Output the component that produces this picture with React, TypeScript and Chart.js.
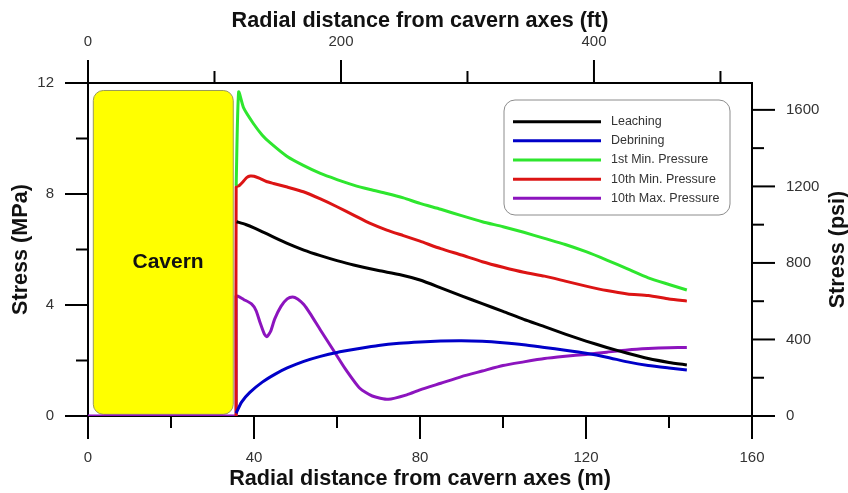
import React, { useEffect, useRef } from 'react';
import { Chart, registerables } from 'chart.js';

Chart.register(...registerables);

// ---------- data ----------
const M_TO_FT = 1 / 0.3048;
const MPA_TO_PSI = 145.0377;

const xMaxM = 160;
const yMaxMPa = 12;

const bottomLabelTicks = [0, 40, 80, 120, 160];
const topLabelTicks = [0, 200, 400];
const leftLabelTicks = [0, 4, 8, 12];
const rightLabelTicks = [0, 400, 800, 1200, 1600];

const seriesLabels = ['Leaching', 'Debrining', '1st Min. Pressure', '10th Min. Pressure', '10th Max. Pressure'];
const seriesColors = ['#000000', '#0000c8', '#2ee62e', '#dc1414', '#8c14be'];

const leachingX = [35.8, 38, 40, 44, 48, 52, 56, 60, 64, 70, 75, 80, 85, 90, 95, 100, 105, 110, 115, 120, 125, 130, 135, 140, 144.3];
const leachingY = [7.0, 6.9, 6.78, 6.5, 6.22, 5.98, 5.78, 5.6, 5.44, 5.24, 5.1, 4.9, 4.62, 4.33, 4.05, 3.77, 3.48, 3.22, 2.95, 2.7, 2.47, 2.26, 2.07, 1.93, 1.84];

const debriningX = [35.7, 37, 39, 42, 45, 48, 52, 56, 60, 65, 70, 75, 80, 85, 90, 95, 100, 105, 110, 115, 120, 125, 130, 135, 140, 144.3];
const debriningY = [0.1, 0.5, 0.85, 1.22, 1.5, 1.73, 1.97, 2.15, 2.29, 2.42, 2.54, 2.62, 2.67, 2.7, 2.71, 2.69, 2.64, 2.57, 2.47, 2.37, 2.26, 2.12, 1.95, 1.82, 1.73, 1.66];

const firstMinX = [35.7, 36.3, 37.5, 39.8, 42, 44, 48, 52, 56, 60, 64, 68, 72, 76, 80, 85, 90, 95, 100, 105, 110, 115, 120, 125, 130, 135, 140, 144.3];
const firstMinY = [8.3, 11.68, 11.1, 10.55, 10.12, 9.83, 9.35, 9.02, 8.74, 8.52, 8.32, 8.16, 8.02, 7.86, 7.66, 7.45, 7.22, 7.0, 6.82, 6.62, 6.4, 6.18, 5.92, 5.62, 5.3, 4.98, 4.74, 4.54];

const tenthMinX = [35.7, 35.7, 36.4, 37.4, 38.3, 39.1, 40, 41.4, 43, 44.7, 48, 51.9, 56, 60, 64, 68, 72, 76, 80, 85, 90, 95, 100, 105, 110, 115, 120, 125, 130, 135, 140, 144.3];
const tenthMinY = [0, 8.26, 8.3, 8.45, 8.6, 8.65, 8.64, 8.56, 8.45, 8.38, 8.25, 8.08, 7.82, 7.54, 7.24, 6.94, 6.7, 6.5, 6.3, 6.03, 5.8, 5.56, 5.36, 5.18, 5.04, 4.86, 4.68, 4.52, 4.4, 4.34, 4.22, 4.14];

const tenthMaxX = [0, 35.4, 35.7, 35.7, 36.1, 37.5, 39.4, 40.5, 41.5, 42.5, 43.1, 44, 45, 46.5, 48, 49.3, 50.5, 52, 53.5, 56, 59.1, 62, 65.5, 68.5, 72.4, 76.8, 80, 85, 90, 95, 100, 105, 110, 115, 120, 125, 130, 135, 140, 144.3];
const tenthMaxY = [0, 0, 0, 4.32, 4.32, 4.2, 4.04, 3.8, 3.35, 2.95, 2.86, 3.05, 3.5, 3.95, 4.22, 4.29, 4.22, 4.02, 3.7, 3.1, 2.38, 1.7, 1.0, 0.72, 0.6, 0.76, 0.94, 1.18, 1.42, 1.62, 1.82, 1.95, 2.07, 2.15, 2.22, 2.3, 2.38, 2.43, 2.46, 2.47];

const seriesX = [leachingX, debriningX, firstMinX, tenthMinX, tenthMaxX];
const seriesY = [leachingY, debriningY, firstMinY, tenthMinY, tenthMaxY];

// cavern extent (m, MPa)
const cavernX = [1.28, 35.0];
const cavernY = [0.06, 11.73];
const cavernText = 'Cavern';
const cavernTextAt = [19.3, 5.56];

const titleBottom = 'Radial distance from cavern axes (m)';
const titleTop = 'Radial distance from cavern axes (ft)';
const titleLeft = 'Stress (MPa)';
const titleRight = 'Stress (psi)';

// ---------- styles ----------
const FONT = '"Liberation Sans", Arial, Helvetica, sans-serif';
const TICK_FONT = { family: FONT, size: 15 };
const TICK_COLOR = '#333333';
const TITLE_FONT = `bold 21.6px ${FONT}`;
const MAJOR_LEN = 23;
const MINOR_LEN = 12;

function roundRect(ctx: CanvasRenderingContext2D, x: number, y: number, w: number, h: number, r: number) {
  ctx.beginPath();
  ctx.moveTo(x + r, y);
  ctx.lineTo(x + w - r, y);
  ctx.arcTo(x + w, y, x + w, y + r, r);
  ctx.lineTo(x + w, y + h - r);
  ctx.arcTo(x + w, y + h, x + w - r, y + h, r);
  ctx.lineTo(x + r, y + h);
  ctx.arcTo(x, y + h, x, y + h - r, r);
  ctx.lineTo(x, y + r);
  ctx.arcTo(x, y, x + r, y, r);
  ctx.closePath();
}

const framePlugin = {
  id: 'frameTicks',
  beforeDatasetsDraw(chart: any) {
    const { ctx, chartArea: a, scales } = chart;
    ctx.save();
    // cavern
    const xs = scales.x, ys = scales.y;
    const cx0 = xs.getPixelForValue(cavernX[0]);
    const cx1 = xs.getPixelForValue(cavernX[1]);
    const cy0 = ys.getPixelForValue(cavernY[1]);
    const cy1 = ys.getPixelForValue(cavernY[0]);
    roundRect(ctx, cx0, cy0, cx1 - cx0, cy1 - cy0, 10);
    ctx.fillStyle = '#ffff00';
    ctx.fill();
    ctx.lineWidth = 1;
    ctx.strokeStyle = '#9a9a5a';
    ctx.stroke();
    ctx.fillStyle = '#111111';
    ctx.font = `bold 21px ${FONT}`;
    ctx.textAlign = 'center';
    ctx.textBaseline = 'middle';
    ctx.fillText(cavernText, xs.getPixelForValue(cavernTextAt[0]), ys.getPixelForValue(cavernTextAt[1]));

    // frame
    ctx.strokeStyle = '#000000';
    ctx.lineWidth = 2;
    ctx.strokeRect(a.left, a.top, a.right - a.left, a.bottom - a.top);

    // ticks
    const drawTicks = (id: string, side: string) => {
      const s = scales[id];
      s.ticks.forEach((t: any) => {
        const p = s.getPixelForValue(t.value);
        const len = t.label !== '' ? MAJOR_LEN : MINOR_LEN;
        ctx.beginPath();
        if (side === 'bottom') { ctx.moveTo(p, a.bottom); ctx.lineTo(p, a.bottom + len); }
        if (side === 'top') { ctx.moveTo(p, a.top); ctx.lineTo(p, a.top - len); }
        if (side === 'left') { ctx.moveTo(a.left, p); ctx.lineTo(a.left - len, p); }
        if (side === 'right') { ctx.moveTo(a.right, p); ctx.lineTo(a.right + len, p); }
        ctx.stroke();
      });
    };
    drawTicks('x', 'bottom');
    drawTicks('xft', 'top');
    drawTicks('y', 'left');
    drawTicks('ypsi', 'right');
    ctx.restore();
  },
  afterDraw(chart: any) {
    const { ctx, chartArea: a } = chart;
    ctx.save();
    ctx.fillStyle = '#111111';
    ctx.font = TITLE_FONT;
    ctx.textAlign = 'center';
    ctx.textBaseline = 'middle';
    const cx = (a.left + a.right) / 2;
    const cy = (a.top + a.bottom) / 2;
    ctx.fillText(titleBottom, cx, 479);
    ctx.fillText(titleTop, cx, 21);
    ctx.save();
    ctx.translate(21, cy);
    ctx.rotate(-Math.PI / 2);
    ctx.fillText(titleLeft, 0, 0);
    ctx.restore();
    ctx.save();
    ctx.translate(838, cy);
    ctx.rotate(-Math.PI / 2);
    ctx.fillText(titleRight, 0, 0);
    ctx.restore();
    ctx.restore();
  },
};

const legendPlugin = {
  id: 'boxLegend',
  afterDatasetsDraw(chart: any) {
    const { ctx, chartArea: a } = chart;
    const x0 = a.left + 416;
    const y0 = a.top + 17;
    const w = 226;
    const h = 115;
    ctx.save();
    roundRect(ctx, x0, y0, w, h, 11);
    ctx.fillStyle = '#ffffff';
    ctx.fill();
    ctx.lineWidth = 1;
    ctx.strokeStyle = '#8c8c8c';
    ctx.stroke();
    ctx.font = `12.5px ${FONT}`;
    ctx.textAlign = 'left';
    ctx.textBaseline = 'middle';
    chart.data.datasets.forEach((ds: any, i: number) => {
      const y = y0 + 21.7 + i * 19.15;
      ctx.beginPath();
      ctx.strokeStyle = ds.borderColor;
      ctx.lineWidth = 3;
      ctx.moveTo(x0 + 9, y);
      ctx.lineTo(x0 + 97, y);
      ctx.stroke();
      ctx.fillStyle = '#333333';
      ctx.fillText(ds.label, x0 + 107, y);
    });
    ctx.restore();
  },
};

const labelCb = (list: number[]) => (v: any) => (list.includes(Number(v)) ? String(v) : '');

const hiddenGrid = {
  display: true,
  drawOnChartArea: false,
  drawTicks: true,
  tickLength: MAJOR_LEN,
  color: 'rgba(0,0,0,0)',
};

export default function App() {
  const ref = useRef<HTMLCanvasElement | null>(null);
  useEffect(() => {
    if (!ref.current) return;
    const datasets = seriesLabels.map((label, i) => ({
      label,
      data: seriesX[i].map((x, j) => ({ x, y: seriesY[i][j] })),
      borderColor: seriesColors[i],
      backgroundColor: seriesColors[i],
      borderWidth: 3,
      pointRadius: 0,
      tension: 0.2,
      fill: false,
    }));
    const chart = new Chart(ref.current, {
      type: 'line',
      data: { datasets },
      options: {
        animation: false,
        responsive: false,
        devicePixelRatio: 1,
        layout: { padding: 0 },
        plugins: { legend: { display: false }, tooltip: { enabled: false }, title: { display: false } },
        scales: {
          x: {
            type: 'linear', position: 'bottom', min: 0, max: xMaxM,
            grid: hiddenGrid, border: { display: false },
            ticks: { stepSize: 20, autoSkip: false, maxRotation: 0, includeBounds: false, padding: 10, font: TICK_FONT, color: TICK_COLOR, callback: labelCb(bottomLabelTicks) },
            afterFit: (s: any) => { s.height = 77; },
          },
          xft: {
            type: 'linear', position: 'top', min: 0, max: xMaxM * M_TO_FT,
            grid: hiddenGrid, border: { display: false },
            ticks: { stepSize: 100, autoSkip: false, maxRotation: 0, includeBounds: false, padding: 9, font: TICK_FONT, color: TICK_COLOR, callback: labelCb(topLabelTicks) },
            afterFit: (s: any) => { s.height = 83; },
          },
          y: {
            type: 'linear', position: 'left', min: 0, max: yMaxMPa,
            grid: hiddenGrid, border: { display: false },
            ticks: { stepSize: 2, autoSkip: false, includeBounds: false, padding: 11, font: TICK_FONT, color: TICK_COLOR, callback: labelCb(leftLabelTicks) },
            afterFit: (s: any) => { s.width = 88; },
          },
          ypsi: {
            type: 'linear', position: 'right', min: 0, max: yMaxMPa * MPA_TO_PSI,
            grid: hiddenGrid, border: { display: false },
            ticks: { stepSize: 200, autoSkip: false, includeBounds: false, padding: 11, font: TICK_FONT, color: TICK_COLOR, callback: labelCb(rightLabelTicks) },
            afterFit: (s: any) => { s.width = 96; },
          },
        },
      } as any,
      plugins: [framePlugin, legendPlugin],
    });
    return () => chart.destroy();
  }, []);
  return (
    <div style={{ position: 'absolute', left: 0, top: 0, width: 848, height: 493, background: '#ffffff' }}>
      <canvas ref={ref} width={848} height={493} style={{ width: 848, height: 493, display: 'block' }} />
    </div>
  );
}
